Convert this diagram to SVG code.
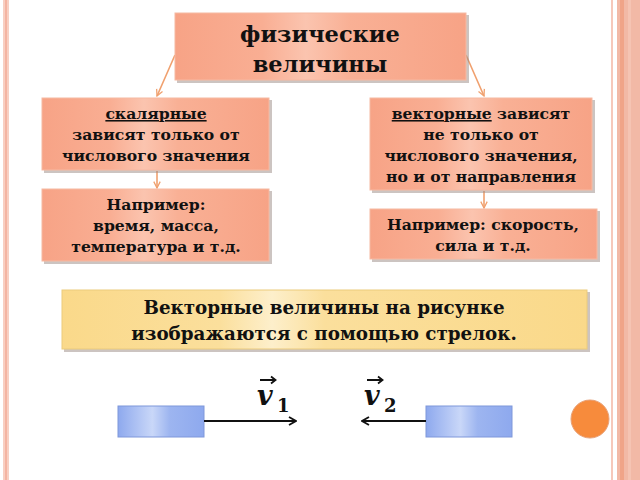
<svg xmlns="http://www.w3.org/2000/svg" width="640" height="480" viewBox="0 0 640 480">
<defs>
<linearGradient id="sal" x1="0" y1="0" x2="1" y2="0">
<stop offset="0" stop-color="#F7A386"/>
<stop offset="0.3" stop-color="#F9AE93"/>
<stop offset="0.45" stop-color="#FBC4AF"/>
<stop offset="0.6" stop-color="#F9B095"/>
<stop offset="1" stop-color="#F7A386"/>
</linearGradient>
<linearGradient id="yel" x1="0" y1="0" x2="1" y2="0">
<stop offset="0" stop-color="#FAD98A"/>
<stop offset="0.3" stop-color="#FBDF9C"/>
<stop offset="0.4" stop-color="#FDEFCB"/>
<stop offset="0.5" stop-color="#FBDF9C"/>
<stop offset="1" stop-color="#FAD98A"/>
</linearGradient>
<linearGradient id="blu" x1="0" y1="0" x2="1" y2="0">
<stop offset="0" stop-color="#8EA9EE"/>
<stop offset="0.4" stop-color="#C9D7F8"/>
<stop offset="0.6" stop-color="#9DB5F0"/>
<stop offset="1" stop-color="#8EA9EE"/>
</linearGradient>
<marker id="ah" viewBox="0 0 10 10" refX="9" refY="5" markerWidth="8" markerHeight="8" markerUnits="userSpaceOnUse" orient="auto">
<path d="M1,1 L9,5 L1,9" fill="none" stroke="#F0A06E" stroke-width="1.6"/>
</marker>
<marker id="bh" viewBox="0 0 10 10" refX="9" refY="5" markerWidth="10" markerHeight="10" markerUnits="userSpaceOnUse" orient="auto">
<path d="M2,1 L9,5 L2,9" fill="none" stroke="#111" stroke-width="1.8"/>
</marker>
</defs>
<style>
.box{fill:url(#sal);stroke:#F6B9A2;stroke-width:1}
.sh{fill:#9a8a84;opacity:0.5}
.t{font-family:"DejaVu Serif","Liberation Serif",serif;font-weight:bold;fill:#111;text-anchor:middle}
.s14{font-size:15.6px}
.con{stroke:#F0A06E;stroke-width:1.6;fill:none}
.v{font-family:"DejaVu Serif",serif;font-style:italic;font-weight:bold;font-size:27px;fill:#111}
.sub{font-family:"DejaVu Serif",serif;font-weight:bold;font-size:18px;fill:#111}
</style>
<rect x="0" y="0" width="640" height="480" fill="#fff"/>
<!-- slide frame -->
<rect x="3" y="0" width="6" height="480" fill="#F8CFC2"/>
<rect x="5" y="0" width="2" height="480" fill="#F4B4A2"/>
<rect x="611" y="0" width="2" height="480" fill="#F6C8BA"/>
<rect x="617" y="0" width="23" height="480" fill="#F2B9A6"/>
<rect x="620" y="0" width="4" height="480" fill="#F0A488"/>
<rect x="628" y="0" width="3" height="480" fill="#F5C4B3"/>

<g id="connectors">
<line class="con" x1="175" y1="55" x2="157" y2="96" marker-end="url(#ah)"/>
<line class="con" x1="466" y1="55" x2="484" y2="96" marker-end="url(#ah)"/>
<line class="con" x1="157" y1="171" x2="157" y2="188" marker-end="url(#ah)"/>
<line class="con" x1="484" y1="191" x2="484" y2="208" marker-end="url(#ah)"/>
</g>

<g id="top">
<rect class="sh" x="177" y="15" width="292" height="68"/>
<rect class="box" x="175" y="13" width="291" height="67"/>
<text class="t" x="320" y="42" font-size="22.5">физические</text>
<text class="t" x="320" y="72" font-size="22.5">величины</text>
</g>

<g id="scalar">
<rect class="sh" x="44" y="100" width="228" height="73"/>
<rect class="box" x="42" y="98" width="227" height="72"/>
<text class="t s14" x="156" y="119" text-decoration="underline">скалярные</text>
<text class="t s14" x="156" y="140">зависят только от</text>
<text class="t s14" x="156" y="161">числового значения</text>
</g>

<g id="scalar-ex">
<rect class="sh" x="44" y="191" width="228" height="73"/>
<rect class="box" x="42" y="189" width="227" height="72"/>
<text class="t s14" x="156" y="210">Например:</text>
<text class="t s14" x="156" y="231">время, масса,</text>
<text class="t s14" x="156" y="252">температура и т.д.</text>
</g>

<g id="vector">
<rect class="sh" x="372" y="100" width="223" height="93"/>
<rect class="box" x="370" y="98" width="222" height="92"/>
<text class="t s14" x="481" y="119"><tspan text-decoration="underline">векторные</tspan> зависят</text>
<text class="t s14" x="481" y="140">не только от</text>
<text class="t s14" x="481" y="161">числового значения,</text>
<text class="t s14" x="481" y="182">но и от направления</text>
</g>

<g id="vector-ex">
<rect class="sh" x="372" y="211" width="228" height="51"/>
<rect class="box" x="370" y="209" width="227" height="50"/>
<text class="t s14" x="483" y="230">Например: скорость,</text>
<text class="t s14" x="483" y="251">сила и т.д.</text>
</g>

<g id="note">
<rect class="sh" x="64" y="292" width="526" height="60"/>
<rect x="62" y="290" width="525" height="59" fill="url(#yel)" stroke="#EBCB7C" stroke-width="1"/>
<text class="t" x="324" y="314" font-size="18.3">Векторные величины на рисунке</text>
<text class="t" x="324" y="340" font-size="18.3">изображаются с помощью стрелок.</text>
</g>

<g id="body1">
<rect x="118" y="406" width="86" height="31" fill="url(#blu)" stroke="#7F97DA" stroke-width="1"/>
<line x1="204" y1="421" x2="296" y2="421" stroke="#111" stroke-width="2" marker-end="url(#bh)"/>
<text class="v" x="257" y="405">v</text>
<text class="sub" x="277" y="412">1</text>
<path d="M260,380 L275,380 M271,376.5 L275.5,380 L271,383.5" fill="none" stroke="#111" stroke-width="1.8"/>
</g>

<g id="body2">
<rect x="426" y="406" width="86" height="31" fill="url(#blu)" stroke="#7F97DA" stroke-width="1"/>
<line x1="426" y1="421" x2="362" y2="421" stroke="#111" stroke-width="2" marker-end="url(#bh)"/>
<text class="v" x="364" y="405">v</text>
<text class="sub" x="384" y="412">2</text>
<path d="M367,380 L382,380 M378,376.5 L382.5,380 L378,383.5" fill="none" stroke="#111" stroke-width="1.8"/>
</g>

<circle cx="590" cy="419" r="19" fill="#F78B3C" stroke="#E7A077" stroke-width="1"/>
</svg>
